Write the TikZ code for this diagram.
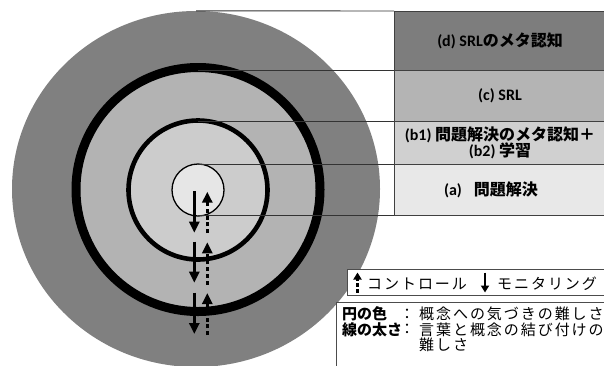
\documentclass[tikz,border=0pt]{standalone}
\usepackage{fontspec}
\setmainfont{Carlito}
\newfontfamily\jp{Noto Sans CJK JP}
\newfontfamily\jpl[LetterSpace=13]{Noto Sans CJK JP}
\usetikzlibrary{shapes.geometric,arrows.meta}
\definecolor{outergray}{HTML}{808080}
\definecolor{cgray}{HTML}{B3B3B3}
\definecolor{bgray}{HTML}{CCCCCC}
\definecolor{agray}{HTML}{E6E6E6}
\definecolor{dbox}{HTML}{7D7D7D}
\definecolor{cbox}{HTML}{B4B4B4}
\definecolor{bbox}{HTML}{D0D0D0}
\definecolor{abox}{HTML}{E8E8E8}
\begin{document}
\begin{tikzpicture}[x=1pt,y=-1pt,
  ring/.style={circle, inner sep=0pt, outer sep=0pt, draw=black},
  band/.style={rectangle, draw=black!75, line width=0.8pt, minimum width=212pt, inner sep=0pt, outer sep=0pt,
    font=\bfseries\fontsize{16}{18}\selectfont, align=center},
  link/.style={draw=black!80, line width=0.9pt},
  monarrow/.style={line width=3pt, -{Triangle[length=11pt,width=10pt]}},
  ctlarrow/.style={line width=3pt, dash pattern=on 4pt off 2.7pt, -{Triangle[length=11pt,width=10pt]}},
  monicon/.style={line width=2.4pt, -{Triangle[length=7pt,width=8pt]}},
  ctlicon/.style={line width=2.4pt, dash pattern=on 3.5pt off 2.5pt, -{Triangle[length=7pt,width=8pt]}},
  legbox/.style={draw=black!70, line width=0.8pt, fill=white, anchor=north west, inner sep=0pt},
  legtext/.style={anchor=west, inner sep=0pt, font=\jpl\fontsize{15}{16}\selectfont},
  legbold/.style={anchor=west, inner sep=0pt, font=\jp\bfseries\fontsize{15}{16}\selectfont},
]
\useasboundingbox (0,0) rectangle (604,365);
% circles
\node[ellipse, fill=outergray, minimum width=368pt, minimum height=356pt, inner sep=0pt] (dcirc) at (196,189) {};
\node[ring, fill=cgray, line width=9pt, minimum size=244pt] (ccirc) at (198,189.5) {};
\node[ring, fill=bgray, line width=4.6pt, minimum size=139pt] (bcirc) at (198,190) {};
\node[ring, fill=agray, line width=1.3pt, minimum size=52pt] (acirc) at (198,190) {};
% boxes
\node[band, fill=dbox, minimum height=59.7pt] (dband) at (500,40.85) {(d) SRL{\jp のメタ認知}};
\node[band, fill=cbox, minimum height=50.3pt] (cband) at (500,95.85) {(c) SRL};
\node[band, fill=bbox, minimum height=43.5pt] (bband) at (500,142.75) {(b1) {\jp 問題解決のメタ認知＋}\\[-2pt](b2) {\jp 学習}};
\node[band, fill=abox, minimum height=50.5pt] (aband) at (500,189.75) {\hspace*{-18pt}(a)\hspace{12pt}{\jp 問題解決}};
% connectors
\draw[link] (dcirc.north) -- (dband.north west);
\draw[link] (ccirc.center |- cband.north west) -- (cband.north west);
\draw[link] (bcirc.center |- bband.north west) -- (bband.north west);
\draw[link] (acirc.center |- aband.north west) -- (aband.north west);
\draw[link] (acirc.center |- aband.south west) -- (aband.south west);
% monitoring / control arrows
\coordinate (m1a) at (194.3,191);   \coordinate (m1b) at (194.3,232.7);
\coordinate (m2a) at (194.3,241.7); \coordinate (m2b) at (194.3,282.7);
\coordinate (m3a) at (194.3,292.7); \coordinate (m3b) at (194.3,334);
\coordinate (c1a) at (207.3,233);   \coordinate (c1b) at (207.3,191.7);
\coordinate (c2a) at (207.3,284.5); \coordinate (c2b) at (207.3,242.3);
\coordinate (c3a) at (207.3,335);   \coordinate (c3b) at (207.3,293);
\draw[monarrow] (m1a) -- (m1b);
\draw[monarrow] (m2a) -- (m2b);
\draw[monarrow] (m3a) -- (m3b);
\draw[ctlarrow] (c1a) -- (c1b);
\draw[ctlarrow] (c2a) -- (c2b);
\draw[ctlarrow] (c3a) -- (c3b);
% legend 1
\node[legbox, minimum width=270pt, minimum height=26pt] (leg1) at (346.7,269) {};
\coordinate (ci1) at (357.5,292.5); \coordinate (ci2) at (357.5,272.5);
\draw[ctlicon] (ci1) -- (ci2);
\node[legtext] (ctltext) at (367,283.5) {コントロール};
\coordinate (mi1) at (485,272.5); \coordinate (mi2) at (485,292.5);
\draw[monicon] (mi1) -- (mi2);
\node[legtext] (montext) at (497,283.5) {モニタリング};
% legend 2
\node[legbox, minimum width=280pt, minimum height=80pt] (leg2) at (336.3,301.5) {};
\node[legbold] (k1) at (342,314) {円の色};
\node[legtext, anchor=center] (s1) at (407,314) {：};
\node[legtext] (v1) at (419,314) {概念への気づきの難しさ};
\node[legbold] (k2) at (342,329.5) {線の太さ};
\node[legtext, anchor=center] (s2) at (407,329.5) {：};
\node[legtext] (v2) at (419,329.5) {言葉と概念の結び付けの};
\node[legtext] (v3) at (419,345) {難しさ};
\end{tikzpicture}
\end{document}
